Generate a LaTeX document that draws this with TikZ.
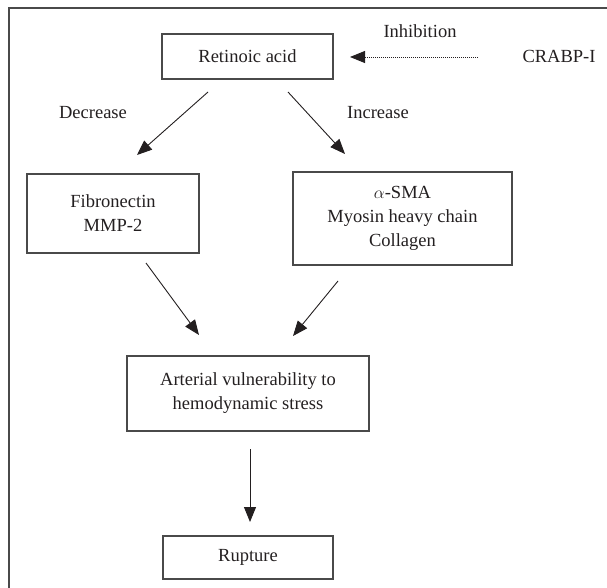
\documentclass[tikz,border=0pt]{standalone}
\usepackage{fontspec}
\setmainfont{Liberation Serif}
\usetikzlibrary{arrows.meta}
\definecolor{ink}{HTML}{231F20}
\definecolor{boxline}{HTML}{4A4A4A}
\begin{document}
\begin{tikzpicture}[x=1pt,y=-1pt,
  every node/.style={text=ink,font=\fontsize{18.5}{24}\selectfont},
  box/.style={draw=boxline,line width=1.3pt,inner sep=0pt,align=center},
  lbl/.style={anchor=base,inner sep=0pt},
  conn/.style={draw=ink,line width=0.9pt,-{Triangle[length=15pt,width=12pt]}},
  dotconn/.style={conn,dash pattern=on 1pt off 1pt}]
\useasboundingbox (0,0) rectangle (607,588);
\draw[line width=1.6pt,draw=boxline] (9,588) -- (9,8) -- (607,8);

\node[box,minimum width=171pt,minimum height=45pt] (ra) at (247.5,56.5) {Retinoic acid};
\node[box,minimum width=172pt,minimum height=79pt] (fib) at (113,213.5) {Fibronectin\\MMP-2};
\node[box,minimum width=219pt,minimum height=93pt] (sma) at (402.5,218.5) {$\alpha$-SMA\\Myosin heavy chain\\Collagen};
\node[box,minimum width=242pt,minimum height=75pt] (art) at (248,393.5) {Arterial vulnerability to\\hemodynamic stress};
\node[box,minimum width=170pt,minimum height=43pt] (rup) at (248,557.5) {Rupture};

\node[lbl] (inh) at (420,38) {Inhibition};
\node[lbl] (crabp) at (559,63) {CRABP-I};
\node[lbl] (dec) at (93,119) {Decrease};
\node[lbl] (inc) at (378,119) {Increase};

\coordinate (d0) at (478,57);
\coordinate (d1) at (350,57);
\coordinate (a0) at (208,92);
\coordinate (a1) at (137,155);
\coordinate (b0) at (288,92);
\coordinate (b1) at (345,154);
\coordinate (c0) at (146,263);
\coordinate (c1) at (199,335);
\coordinate (e0) at (338,281);
\coordinate (e1) at (293,336);
\coordinate (f0) at (250,449);
\coordinate (f1) at (250,522);

\draw[dotconn] (d0) -- (d1);
\draw[conn] (a0) -- (a1);
\draw[conn] (b0) -- (b1);
\draw[conn] (c0) -- (c1);
\draw[conn] (e0) -- (e1);
\draw[conn] (f0) -- (f1);
\end{tikzpicture}
\end{document}
